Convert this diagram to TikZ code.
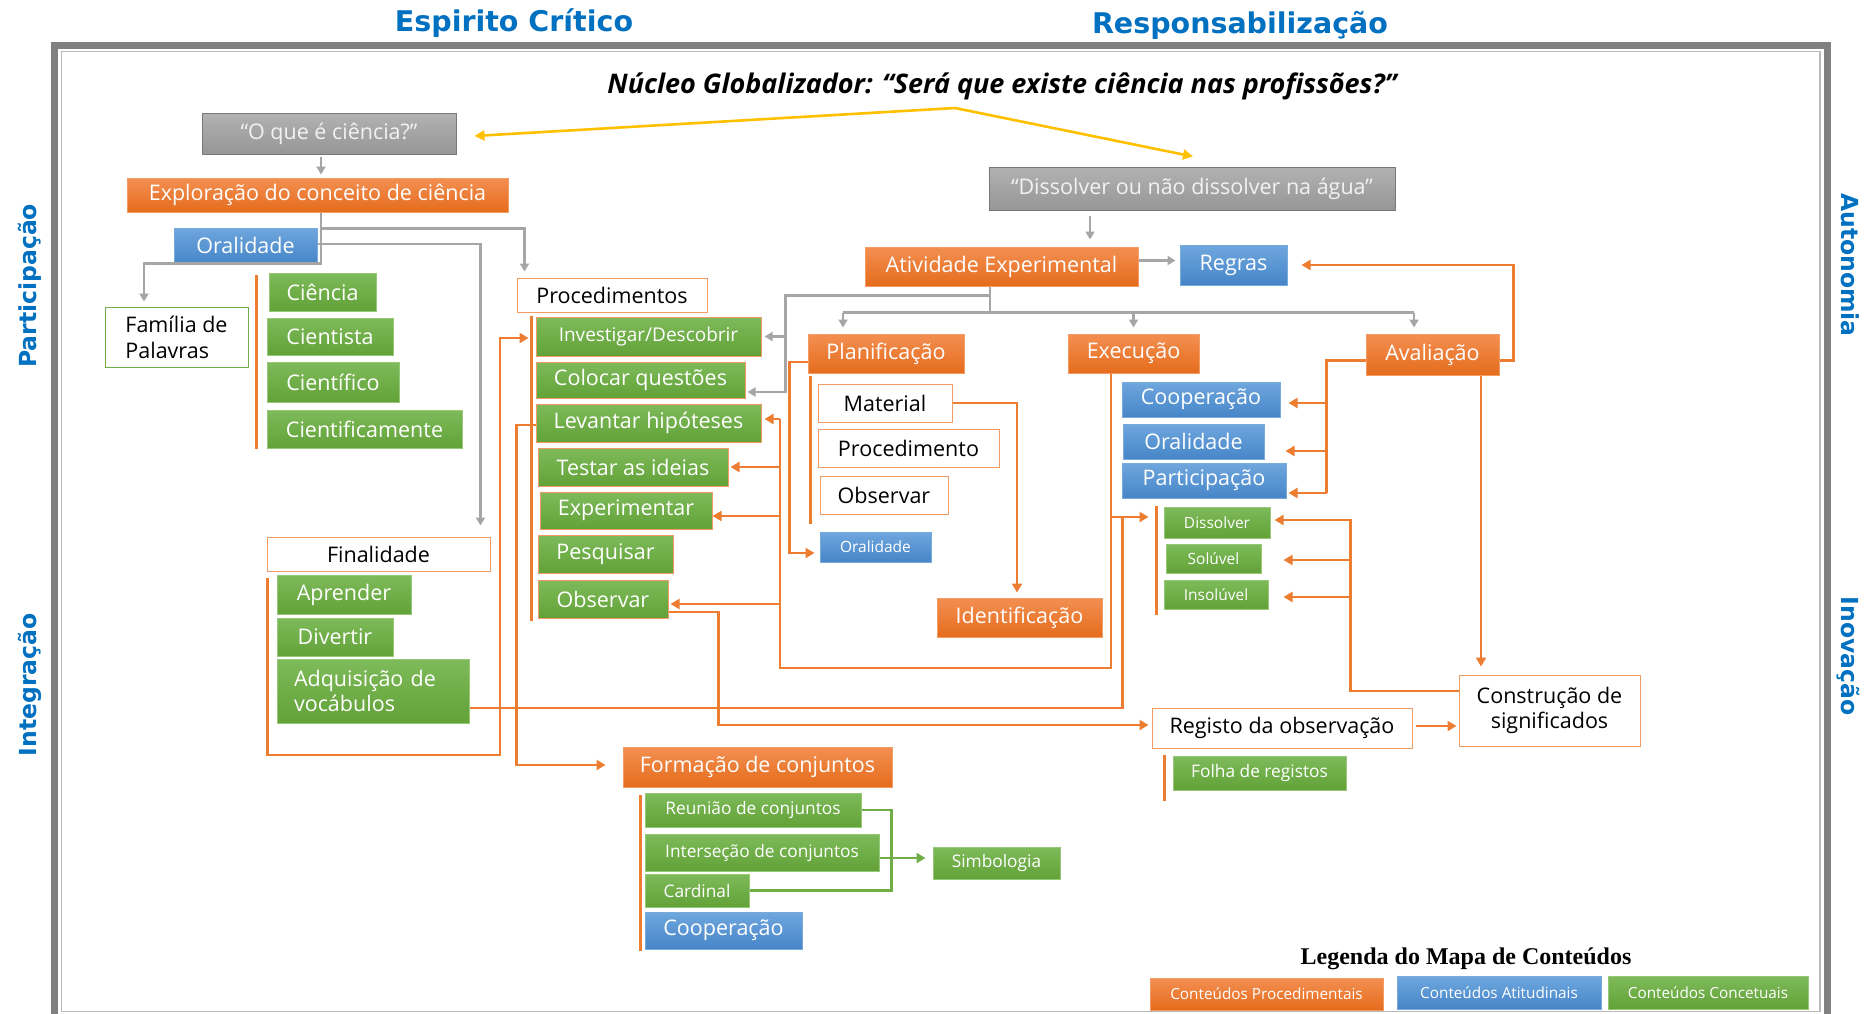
\documentclass[tikz,border=0pt]{standalone}
\usepackage{fontspec}
\setmainfont{Open Sans}
\newfontfamily\sidefont{DejaVu Sans}
\newfontfamily\legfont{Liberation Serif}
\usepackage{tikz}
\usetikzlibrary{arrows.meta}

\definecolor{orgT}{RGB}{243,143,82}
\definecolor{orgB}{RGB}{229,108,28}
\definecolor{orgE}{RGB}{244,155,100}
\definecolor{orgL}{RGB}{237,125,49}
\definecolor{bluT}{RGB}{111,167,222}
\definecolor{bluB}{RGB}{70,133,200}
\definecolor{bluE}{RGB}{120,170,220}
\definecolor{grnT}{RGB}{126,186,90}
\definecolor{grnB}{RGB}{98,162,56}
\definecolor{grnE}{RGB}{150,200,120}
\definecolor{grnL}{RGB}{112,173,71}
\definecolor{gryT}{RGB}{178,178,178}
\definecolor{gryB}{RGB}{150,150,150}
\definecolor{gryE}{RGB}{120,120,120}
\definecolor{gryL}{RGB}{166,166,166}
\definecolor{gryX}{RGB}{242,242,242}
\definecolor{txtB}{RGB}{0,112,192}
\definecolor{yel}{RGB}{255,192,0}
\definecolor{frmD}{RGB}{128,128,128}
\definecolor{frmL}{RGB}{185,185,185}

\begin{document}
\begin{tikzpicture}[
  x=1pt, y=-1pt,
  box/.style={inner sep=0pt, align=center, line width=1pt, font=\fontsize{21.5}{25}\selectfont},
  obox/.style={box, draw=orgE, top color=orgT, bottom color=orgB, text=white},
  bbox/.style={box, draw=bluE, top color=bluT, bottom color=bluB, text=white},
  gbox/.style={box, draw=grnE, top color=grnT, bottom color=grnB, text=white},
  pbox/.style={gbox, draw=orgE},
  wbox/.style={box, draw=orgE, fill=white, text=black},
  greybox/.style={box, draw=gryE, top color=gryT, bottom color=gryB, text=gryX},
  small/.style={font=\fontsize{15.5}{18}\selectfont},
  mid/.style={font=\fontsize{17.3}{20}\selectfont},
  bar/.style={draw=orgL, line width=2.6pt},
  oline/.style={draw=orgL, line width=2.6pt},
  oarr/.style={oline, -{Triangle[length=9pt,width=10pt]}},
  gline/.style={draw=gryL, line width=2.4pt},
  garr/.style={gline, -{Triangle[length=8pt,width=9pt]}},
  nline/.style={draw=grnL, line width=2.4pt},
  narr/.style={nline, -{Triangle[length=9pt,width=10pt]}},
  yarr/.style={draw=yel, line width=2.6pt, -{Triangle[length=10pt,width=10pt]}},
  title/.style={text=txtB, font={\sidefont\bfseries\fontsize{28.5}{32}\selectfont}},
  side/.style={text=txtB, font={\sidefont\bfseries\fontsize{23.5}{28}\selectfont}}
]
\useasboundingbox (0,0) rectangle (1869,1013);
\fill[white] (0,0) rectangle (1869,1013);
\draw[frmD, line width=7pt] (54,45.5) rectangle (1827.5,1040);
\draw[frmL, line width=1.5pt] (61.5,51.5) rectangle (1820,1011.5);

\node[title] (esp) at (514,23) {Espirito Crítico};
\node[title] (resp) at (1240,25) {Responsabilização};
\node[side, rotate=90] (spart) at (30,286) {Participação};
\node[side, rotate=90] (sinteg) at (30,685) {Integração};
\node[side, rotate=-90] (sauto) at (1850,265) {Autonomia};
\node[side, rotate=-90] (sinov) at (1848,656) {Inovação};
\node[font={\bfseries\itshape\fontsize{27}{31}\selectfont}] (nucleo) at (1002,86) {Núcleo Globalizador: “Será que existe ciência nas profissões?”};

\node[greybox, minimum width=254pt, minimum height=41pt] (oque) at (329,133.5) {“O que é ciência?”};
\node[obox, minimum width=381pt, minimum height=34pt] (expl) at (317.5,195) {Exploração do conceito de ciência};
\node[bbox, minimum width=143pt, minimum height=35pt] (oral1) at (245.5,245.5) {Oralidade};
\node[wbox, draw=grnL, align=left, minimum width=143pt, minimum height=60pt, font=\fontsize{21.5}{26}\selectfont] (fam) at (176.5,337) {Família de\\Palavras};
\node[gbox, minimum width=107pt, minimum height=38pt] (cien1) at (322.5,292) {Ciência};
\node[gbox, minimum width=126pt, minimum height=37pt] (cien2) at (330,336.5) {Cientista};
\node[gbox, minimum width=132pt, minimum height=40pt] (cien3) at (333,382) {Científico};
\node[gbox, minimum width=195pt, minimum height=38pt] (cien4) at (364.5,429) {Cientificamente};

\node[wbox, minimum width=190pt, minimum height=34pt] (proc) at (612,295) {Procedimentos};
\node[pbox, minimum width=225pt, minimum height=39pt, font=\fontsize{19}{22}\selectfont] (inv) at (648.5,336.5) {Investigar/Descobrir};
\node[pbox, minimum width=209pt, minimum height=36pt] (col) at (640.5,380) {Colocar questões};
\node[pbox, minimum width=225pt, minimum height=38pt] (lev) at (648.5,423) {Levantar hipóteses};
\node[pbox, minimum width=190pt, minimum height=38pt] (tes) at (633,467) {Testar as ideias};
\node[pbox, minimum width=172pt, minimum height=37pt] (exp) at (626,510.5) {Experimentar};
\node[pbox, minimum width=135pt, minimum height=38pt] (pes) at (605.5,554) {Pesquisar};
\node[pbox, minimum width=130pt, minimum height=38pt] (obs1) at (603,599) {Observar};

\node[wbox, minimum width=223pt, minimum height=34pt] (fin) at (378.5,554) {Finalidade};
\node[gbox, minimum width=134pt, minimum height=39pt] (apr) at (344,594.5) {Aprender};
\node[gbox, minimum width=116pt, minimum height=38pt] (div) at (335,637) {Divertir};
\node[gbox, text width=158pt, align=left, minimum width=192pt, minimum height=64pt] (adq) at (373,691) {Adquisição de\\vocábulos};

\node[greybox, minimum width=406pt, minimum height=43pt] (dis) at (1192,188.5) {“Dissolver ou não dissolver na água”};
\node[obox, minimum width=273pt, minimum height=39pt] (ativ) at (1001.5,266.5) {Atividade Experimental};
\node[bbox, minimum width=107pt, minimum height=40pt] (reg) at (1233.5,265) {Regras};
\node[obox, minimum width=156pt, minimum height=39pt] (plan) at (886,353.5) {Planificação};
\node[obox, minimum width=131pt, minimum height=39pt] (exe) at (1133.5,353.5) {Execução};
\node[obox, minimum width=133pt, minimum height=41pt] (ava) at (1432.5,354.5) {Avaliação};

\node[wbox, minimum width=134pt, minimum height=38pt] (mat) at (885,403) {Material};
\node[wbox, minimum width=181pt, minimum height=38pt] (pro2) at (908.5,448) {Procedimento};
\node[wbox, minimum width=128pt, minimum height=38pt] (obs2) at (884,495) {Observar};
\node[bbox, small, minimum width=111pt, minimum height=30pt] (oral2) at (875.5,547) {Oralidade};
\node[obox, minimum width=165pt, minimum height=39pt] (ide) at (1019.5,617.5) {Identificação};

\node[bbox, minimum width=158pt, minimum height=35pt] (coop1) at (1201,399.5) {Cooperação};
\node[bbox, minimum width=141pt, minimum height=35pt] (oral3) at (1193.5,441.5) {Oralidade};
\node[bbox, minimum width=164pt, minimum height=35pt] (part) at (1204,480.5) {Participação};
\node[gbox, small, minimum width=106pt, minimum height=31pt] (dsv) at (1217,522.5) {Dissolver};
\node[gbox, small, minimum width=95pt, minimum height=29pt] (sol) at (1213.5,558.5) {Solúvel};
\node[gbox, small, minimum width=104pt, minimum height=29pt] (ins) at (1216,594.5) {Insolúvel};

\node[wbox, minimum width=181pt, minimum height=71pt, font=\fontsize{21.5}{24.5}\selectfont] (cons) at (1549.5,710.5) {Construção de\\significados};
\node[wbox, minimum width=260pt, minimum height=40pt] (regi) at (1282,728) {Registo da observação};
\node[gbox, mid, minimum width=173pt, minimum height=34pt] (folha) at (1259.5,773) {Folha de registos};

\node[obox, minimum width=269pt, minimum height=40pt] (form) at (757.5,767) {Formação de conjuntos};
\node[gbox, mid, minimum width=216pt, minimum height=34pt] (reu) at (753,810) {Reunião de conjuntos};
\node[gbox, mid, minimum width=234pt, minimum height=37pt] (int) at (762,852.5) {Interseção de conjuntos};
\node[gbox, mid, minimum width=104pt, minimum height=33pt] (car) at (697,890.5) {Cardinal};
\node[bbox, minimum width=157pt, minimum height=37pt] (coop2) at (723.5,930.5) {Cooperação};
\node[gbox, mid, minimum width=127pt, minimum height=32pt] (sim) at (996.5,863) {Simbologia};

\node[font={\legfont\bfseries\fontsize{24}{28}\selectfont}] (legt) at (1466,959) {Legenda do Mapa de Conteúdos};
\node[obox, font=\fontsize{15.3}{18}\selectfont, minimum width=233pt, minimum height=32pt] (lg1) at (1266.5,994) {Conteúdos Procedimentais};
\node[bbox, font=\fontsize{15.3}{18}\selectfont, minimum width=204pt, minimum height=33pt] (lg2) at (1499,992.5) {Conteúdos Atitudinais};
\node[gbox, font=\fontsize{15.3}{18}\selectfont, minimum width=200pt, minimum height=33pt] (lg3) at (1708,992.5) {Conteúdos Concetuais};

\coordinate (apex) at (955,108);
\draw[yarr] (apex) -- ([xshift=18pt,yshift=-2.5pt]oque.east);
\draw[yarr] (apex) -- ([xshift=1pt,yshift=10pt]dis.north);

\draw[garr] ([xshift=-8pt,yshift=-2pt]oque.south) -- ([xshift=-8pt,yshift=3pt]oque.south |- expl.north);
\draw[garr] ([xshift=3.5pt]expl.south) |- ([xshift=-32.5pt]fam.north |- oral1.south) -- ([xshift=-32.5pt,yshift=5pt]fam.north);
\draw[garr] ([xshift=3.5pt,yshift=-16pt]expl.south) -| ([xshift=8pt,yshift=6pt]proc.north west);
\draw[garr] ([yshift=1.5pt]oral1.east) -| ([xshift=-10pt,yshift=11pt]fin.north east);

\draw[garr] ([xshift=88.5pt,yshift=-5pt]ativ.north |- dis.south) -- ([xshift=88.5pt,yshift=7pt]ativ.north);
\draw[garr] ([yshift=6pt]ativ.east) -- ([xshift=-4pt,yshift=6pt]ativ.east -| reg.west);
\coordinate (tj) at ([xshift=-11.5pt,yshift=-26pt]ativ.south);
\draw[gline] ([xshift=-11.5pt]ativ.south) -- (tj);
\draw[gline] ([xshift=-43pt]plan.north |- tj) -- ([xshift=-18.5pt]ava.north |- tj);
\draw[garr] ([xshift=-43pt]plan.north |- tj) -- ([xshift=-43pt,yshift=6pt]plan.north);
\draw[garr] (exe.north |- tj) -- ([yshift=6pt]exe.north);
\draw[garr] ([xshift=-18.5pt]ava.north |- tj) -- ([xshift=-18.5pt,yshift=6pt]ava.north);
\draw[garr] ([yshift=17pt]tj) -| ([xshift=40pt,yshift=-12pt]col.east) -- ([xshift=2pt,yshift=-12pt]col.east);
\draw[garr] ([xshift=24pt]inv.east) -- ([xshift=3pt]inv.east);

\draw[oarr] ([yshift=-6pt]ava.east) -| ([xshift=14pt]ava.east |- reg.east) -- ([xshift=14pt]reg.east);
\coordinate (avx) at ([xshift=-39pt,yshift=-6pt]ava.west);
\draw[oline] ([yshift=-6pt]ava.west) -| ([yshift=-12.5pt]avx |- part.east);
\draw[oarr] ([yshift=-3.5pt]avx |- coop1.east) -- ([xshift=8pt,yshift=-3.5pt]coop1.east);
\draw[oarr] ([yshift=-9.5pt]avx |- oral3.east) -- ([xshift=21pt,yshift=-9.5pt]oral3.east);
\draw[oarr] ([yshift=-12.5pt]avx |- part.east) -- ([xshift=2pt,yshift=-12.5pt]part.east);
\draw[oarr] ([xshift=48.5pt]ava.south) -- ([xshift=48.5pt,yshift=8pt]ava.south |- cons.north);

\draw[oarr] ([yshift=19.5pt]cons.west) -| ([xshift=80pt,yshift=2.5pt]dsv.east) -- ([xshift=4pt,yshift=2.5pt]dsv.east);
\draw[oarr] ([xshift=89pt,yshift=-1.5pt]sol.east) -- ([xshift=22pt,yshift=-1.5pt]sol.east);
\draw[oarr] ([xshift=82pt,yshift=-2.5pt]ins.east) -- ([xshift=15pt,yshift=-2.5pt]ins.east);

\coordinate (xl) at (780,668);
\draw[oline] ([xshift=-22.5pt]exe.south) |- (xl) -- ([yshift=4pt]xl |- lev.east);
\draw[oarr] ([yshift=4pt]xl |- lev.east) -- ([xshift=3pt,yshift=4pt]lev.east);
\draw[oarr] (xl |- tes.east) -- ([xshift=2pt]tes.east);
\draw[oarr] ([yshift=-5.5pt]xl |- exp.east) -- ([yshift=-5.5pt]exp.east);
\draw[oarr] ([yshift=-5pt]xl |- obs1.east) -- ([xshift=2pt,yshift=-5pt]obs1.east);
\draw[oarr] ([xshift=-22.5pt,yshift=5.5pt]exe.south |- dsv.west) -- ([xshift=-15pt,yshift=5.5pt]dsv.west);
\draw[oline] ([yshift=-17pt]adq.east) -| ([xshift=-41pt,yshift=5.5pt]dsv.west);

\draw[oarr] ([yshift=-13pt]obs1.east) -| ([xshift=-433pt,yshift=3pt]regi.west) -- ([xshift=-3pt,yshift=3pt]regi.west);
\draw[oarr] ([xshift=3pt,yshift=2pt]regi.east) -- ([xshift=-2pt,yshift=2pt]regi.east -| cons.west);
\draw[oarr] (mat.east) -| ([xshift=-2.5pt,yshift=5pt]ide.north);
\draw[oarr] ([yshift=-8.5pt]plan.west) -| ([xshift=-30pt,yshift=-6pt]oral2.west) -- ([xshift=-5pt,yshift=-6pt]oral2.west);

\coordinate (fb) at (500,755);
\draw[oarr] ([xshift=1pt,yshift=-6pt]fin.south west) |- (fb) |- ([xshift=-7pt,yshift=-1.5pt]inv.west);
\draw[oarr] ([yshift=-2pt]lev.west) -| ([xshift=-106pt,yshift=2pt]form.west) -- ([xshift=-17pt,yshift=2pt]form.west);

\draw[bar] ([xshift=-12pt,yshift=-2pt]cien1.north west) -- ([xshift=-10pt]cien4.south west);
\draw[bar] ([xshift=-4pt,yshift=1pt]inv.north west) -- ([xshift=-6pt,yshift=-2pt]obs1.south west);
\draw[bar] ([xshift=-7pt,yshift=8pt]mat.north west) -- ([xshift=-9pt,yshift=-9pt]obs2.south west);
\draw[bar] ([xshift=-7pt,yshift=1pt]dsv.north west) -- ([xshift=-7pt,yshift=-5pt]ins.south west);
\draw[bar] ([xshift=-8pt,yshift=1pt]folha.north west) -- ([xshift=-8pt,yshift=-10pt]folha.south west);
\draw[bar] ([xshift=-4pt,yshift=-2pt]reu.north west) -- ([xshift=-4pt,yshift=-1pt]coop2.south west);

\draw[nline] (reu.east) -| ([xshift=142pt]car.east) -- (car.east);
\draw[narr] ([yshift=-5.5pt]int.east) -- ([xshift=-7pt,yshift=-5.5pt]int.east -| sim.west);
\end{tikzpicture}
\end{document}
